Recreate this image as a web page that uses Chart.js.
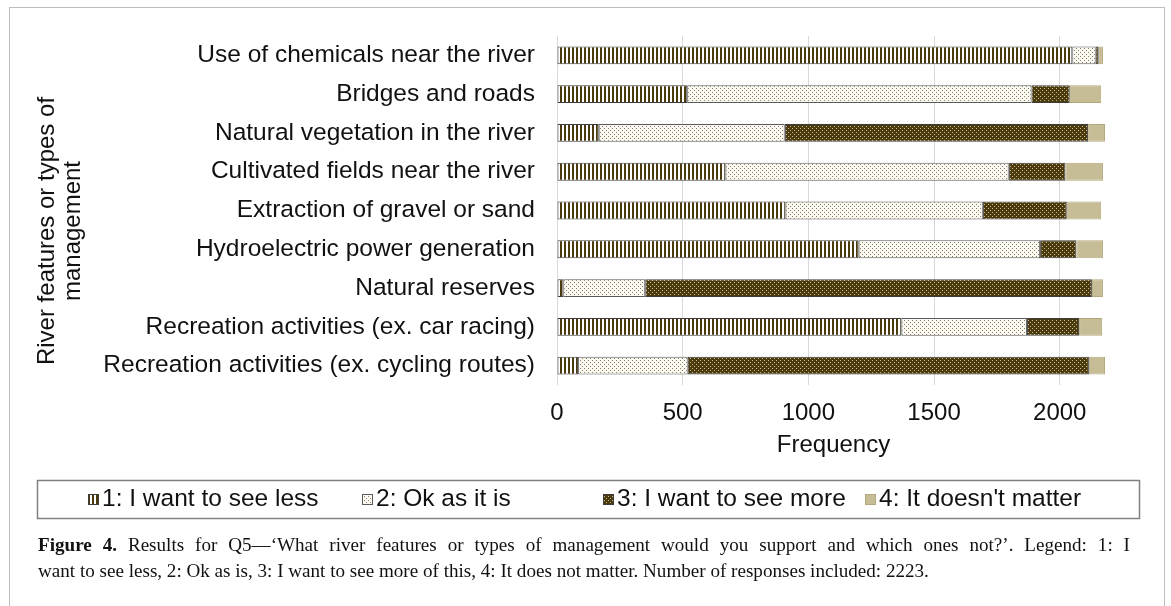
<!DOCTYPE html>
<html><head><meta charset="utf-8">
<script src="https://cdn.jsdelivr.net/npm/chart.js@4.4.0/dist/chart.umd.min.js"></script>
<style>
html,body{margin:0;padding:0;background:#fff;width:1171px;height:606px;overflow:hidden;}
#frame{position:absolute;left:9px;top:7px;width:1154px;height:640px;border:1px solid #bdbdbd;}
#wrap{position:absolute;left:0;top:0;width:1171px;height:606px;}
#caption{position:absolute;left:38px;top:532px;font-family:"Liberation Serif","Times New Roman",serif;font-size:19.1px;line-height:26px;color:#111;}
#caption .l1{width:1092px;text-align:justify;text-align-last:justify;white-space:nowrap;}
#caption .l2{white-space:nowrap;}
</style></head>
<body>
<div id="frame"></div>
<div id="wrap"><canvas id="c" width="1171" height="606"></canvas></div>
<div id="caption"><div class="l1"><b>Figure 4.</b> Results for Q5—‘What river features or types of management would you support and which ones not?’. Legend: 1: I</div><div class="l2">want to see less, 2: Ok as is, 3: I want to see more of this, 4: It does not matter. Number of responses included: 2223.</div></div>
<script>
const categories = ['Use of chemicals near the river','Bridges and roads','Natural vegetation in the river','Cultivated fields near the river','Extraction of gravel or sand','Hydroelectric power generation','Natural reserves','Recreation activities (ex. car racing)','Recreation activities (ex. cycling routes)'];
const seeLess      = [2050, 518, 166, 670, 909, 1200, 25, 1370, 84];
const okAsIs       = [93, 1370, 740, 1127, 785, 722, 326, 500, 436];
const seeMore      = [12, 152, 1207, 225, 334, 144, 1777, 207, 1596];
const doesntMatter = [17, 125, 67, 150, 137, 106, 44, 92, 64];
const seriesNames  = ['1: I want to see less','2: Ok as it is','3: I want to see more',"4: It doesn't matter"];
const xTicks = [0, 500, 1000, 1500, 2000];
const yTitle = ['River features or types of','management'];
const xTitle = 'Frequency';

const FONT = '"Liberation Sans", Arial, sans-serif';
const legendStarts = [88, 362, 603, 865];

function makePattern(type){
  const c = document.createElement('canvas');
  c.width = 4; c.height = 4;
  const g = c.getContext('2d');
  if (type === 'stripe') {
    g.fillStyle = '#ffffff'; g.fillRect(0,0,4,4);
    g.fillStyle = '#4b3a0e'; g.fillRect(0,0,2,4);
  } else if (type === 'lightdot') {
    g.fillStyle = '#fbf9f3'; g.fillRect(0,0,4,4);
    g.fillStyle = '#8c7c52'; g.fillRect(0,0,1,1); g.fillRect(2,2,1,1);
  } else {
    g.fillStyle = '#4b3a0e'; g.fillRect(0,0,4,4);
    g.fillStyle = '#c9bc8e'; g.fillRect(0,0,1,1); g.fillRect(2,2,1,1);
  }
  return g.createPattern(c, 'repeat');
}
const fills = [makePattern('stripe'), makePattern('lightdot'), makePattern('darkdot'), '#c6bc95'];
const borders = ['#3d3d3d', '#5a5a5a', '#3d3d3d', '#b3a87c'];
const values = [seeLess, okAsIs, seeMore, doesntMatter];

const yTitlePlugin = {
  id: 'yTitle',
  afterDraw(chart){
    const ctx = chart.ctx;
    ctx.save();
    ctx.fillStyle = '#111';
    ctx.font = '24px ' + FONT;
    ctx.textAlign = 'center';
    ctx.textBaseline = 'middle';
    const cy = 231;
    const xs = [47, 73];
    yTitle.forEach((t,i)=>{
      ctx.save();
      ctx.translate(xs[i], cy);
      ctx.rotate(-Math.PI/2);
      ctx.fillText(t, 0, 0);
      ctx.restore();
    });
    ctx.restore();
  }
};

const legendPlugin = {
  id: 'boxLegend',
  afterDraw(chart){
    const ctx = chart.ctx;
    ctx.save();
    ctx.strokeStyle = '#808080';
    ctx.lineWidth = 1.5;
    ctx.strokeRect(37.5, 480.5, 1102, 38);
    ctx.font = '24.5px ' + FONT;
    ctx.textBaseline = 'middle';
    ctx.textAlign = 'left';
    const sw = 11, sgap = 3;
    const cy = 499.5;
    chart.data.datasets.forEach((d,i)=>{
      const x = legendStarts[i];
      ctx.fillStyle = d.backgroundColor;
      ctx.fillRect(x, cy-5.5, sw, sw);
      ctx.strokeStyle = d.borderColor; ctx.lineWidth = 1;
      ctx.strokeRect(x+0.5, cy-5, sw-1, sw-1);
      ctx.fillStyle = '#111';
      ctx.fillText(d.label, x + sw + sgap, cy);
    });
    ctx.restore();
  }
};

new Chart(document.getElementById('c'), {
  type: 'bar',
  data: {
    labels: categories,
    datasets: seriesNames.map((n,i)=>({
      label: n, data: values[i], backgroundColor: fills[i], borderColor: borders[i], borderWidth: 1, borderSkipped: false
    }))
  },
  options: {
    indexAxis: 'y',
    responsive: false,
    animation: false,
    layout: { padding: { top: 36, right: 61, bottom: 141, left: 0 } },
    plugins: { legend: { display: false }, tooltip: { enabled: false } },
    datasets: { bar: { categoryPercentage: 1, barPercentage: 0.46 } },
    scales: {
      x: {
        stacked: true, min: 0, max: 2200,
        afterBuildTicks: s => { s.ticks = xTicks.map(v => ({ value: v })); },
        grid: { color: '#d9d9d9', lineWidth: 1, drawTicks: false },
        border: { display: false },
        ticks: { padding: 14, color: '#111', font: { size: 24, family: FONT }, callback: v => String(v) },
        title: { display: true, text: xTitle, color: '#111', font: { size: 24, family: FONT }, padding: { top: 0, bottom: 5 } },
        afterFit: s => { s.height = 80; }
      },
      y: {
        stacked: true,
        grid: { display: false },
        border: { display: false },
        ticks: { padding: 14, color: '#111', font: { size: 24.5, family: FONT } },
        afterFit: s => { s.width = 557; }
      }
    }
  },
  plugins: [yTitlePlugin, legendPlugin]
});
</script>
</body></html>
